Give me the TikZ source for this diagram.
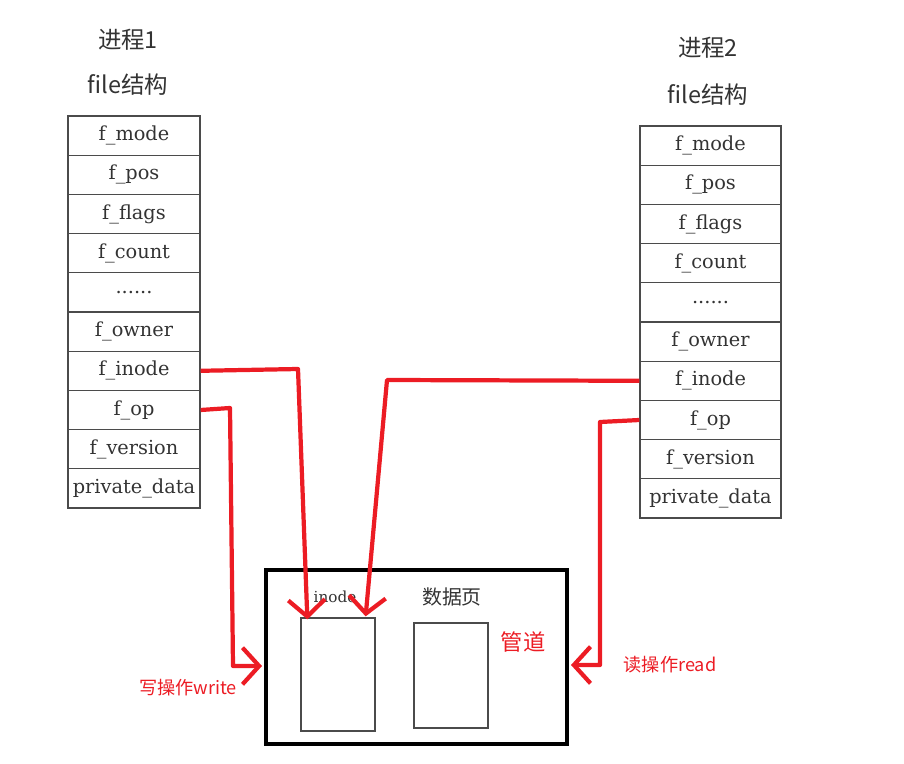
\documentclass[tikz,border=0pt]{standalone}
\usepackage{fontspec}
\setmainfont{DejaVu Serif}
\newfontfamily\cjk{Noto Sans CJK SC}
\usetikzlibrary{arrows.meta}
\definecolor{pipered}{RGB}{236,28,36}
\definecolor{boxgray}{RGB}{75,75,75}
\tikzset{
  field/.style={draw=boxgray, line width=1.1pt, rectangle, minimum height=1.176cm, inner sep=0pt, text=black!80, font=\fontsize{16.5}{20}\selectfont},
  title/.style={text=black!80, font=\cjk\fontsize{20}{22}\selectfont},
  redline/.style={draw=pipered, line width=3.6pt, line join=round, -{Straight Barb[length=0.5cm, width=1.1cm]}},
  redlabel/.style={text=pipered, font=\cjk\fontsize{15.5}{18}\selectfont}
}
\begin{document}
\begin{tikzpicture}[x=0.03cm, y=-0.03cm]
    \useasboundingbox (0,0) rectangle (904,764);

    % process 1
    \node[title] (proc1) at (128,40) {进程1};
    \node[title] (file1) at (128,85) {file结构};
    \node[field, minimum width=3.96cm] (lMode) at (134,135.6) {f\_mode};
    \node[field, minimum width=3.96cm] (lPos) at (134,174.8) {f\_pos};
    \node[field, minimum width=3.96cm] (lFlags) at (134,214) {f\_flags};
    \node[field, minimum width=3.96cm] (lCount) at (134,253.2) {f\_count};
    \node[field, minimum width=3.96cm] (lDots) at (134,292.4) {......};
    \node[field, minimum width=3.96cm] (lOwner) at (134,331.6) {f\_owner};
    \node[field, minimum width=3.96cm] (lInode) at (134,370.8) {f\_inode};
    \node[field, minimum width=3.96cm] (lOp) at (134,410) {f\_op};
    \node[field, minimum width=3.96cm] (lVersion) at (134,449.2) {f\_version};
    \node[field, minimum width=3.96cm] (lPrivate) at (134,488.4) {private\_data};

    % process 2
    \node[title] (proc2) at (708,48) {进程2};
    \node[title] (file2) at (708,95) {file结构};
    \node[field, minimum width=4.23cm] (rMode) at (710.5,145.6) {f\_mode};
    \node[field, minimum width=4.23cm] (rPos) at (710.5,184.8) {f\_pos};
    \node[field, minimum width=4.23cm] (rFlags) at (710.5,224) {f\_flags};
    \node[field, minimum width=4.23cm] (rCount) at (710.5,263.2) {f\_count};
    \node[field, minimum width=4.23cm] (rDots) at (710.5,302.4) {......};
    \node[field, minimum width=4.23cm] (rOwner) at (710.5,341.6) {f\_owner};
    \node[field, minimum width=4.23cm] (rInode) at (710.5,380.8) {f\_inode};
    \node[field, minimum width=4.23cm] (rOp) at (710.5,420) {f\_op};
    \node[field, minimum width=4.23cm] (rVersion) at (710.5,459.2) {f\_version};
    \node[field, minimum width=4.23cm] (rPrivate) at (710.5,498.4) {private\_data};

    % pipe
    \node[draw, line width=3.4pt, rectangle, minimum width=9.03cm, minimum height=5.22cm] (pipe) at (416.5,657) {};
    \node[text=black!80, font=\fontsize{13}{14}\selectfont] (inodeLabel) at (335,597) {inode};
    \node[draw=boxgray, line width=1.1pt, rectangle, minimum width=2.22cm, minimum height=3.39cm] (inodeBox) at (338,674.5) {};
    \node[title, font=\cjk\fontsize{17}{18}\selectfont] (pageLabel) at (452,597) {数据页};
    \node[draw=boxgray, line width=1.1pt, rectangle, minimum width=2.22cm, minimum height=3.15cm] (pageBox) at (451,675.5) {};
    \node[redlabel, font=\cjk\fontsize{19}{20}\selectfont] (pipeLabel) at (523,642) {管道};

    \coordinate (inodeIn1) at ([xshift=0.21cm, yshift=-0.06cm]inodeBox.north west);
    \coordinate (inodeIn2) at ([xshift=-0.3cm, yshift=0.03cm]inodeBox.north east);

    % connectors
    \draw[redline] (lInode.east) -- (298,369) -- (inodeIn1);
    \draw[redline] (rInode.west) -- (387,380) -- (inodeIn2);
    \draw[redline] (lOp.east) -- (230,408) -- (233,666) -- ([xshift=-0.06cm]pipe.west |- 0,666);
    \draw[redline] (rOp.west) -- (600,422) -- (600,665) -- ([xshift=0.06cm]pipe.east |- 0,665);

    \node[redlabel] (writeLabel) at (188,688) {写操作write};
    \node[redlabel] (readLabel) at (670,665) {读操作read};
\end{tikzpicture}
\end{document}
